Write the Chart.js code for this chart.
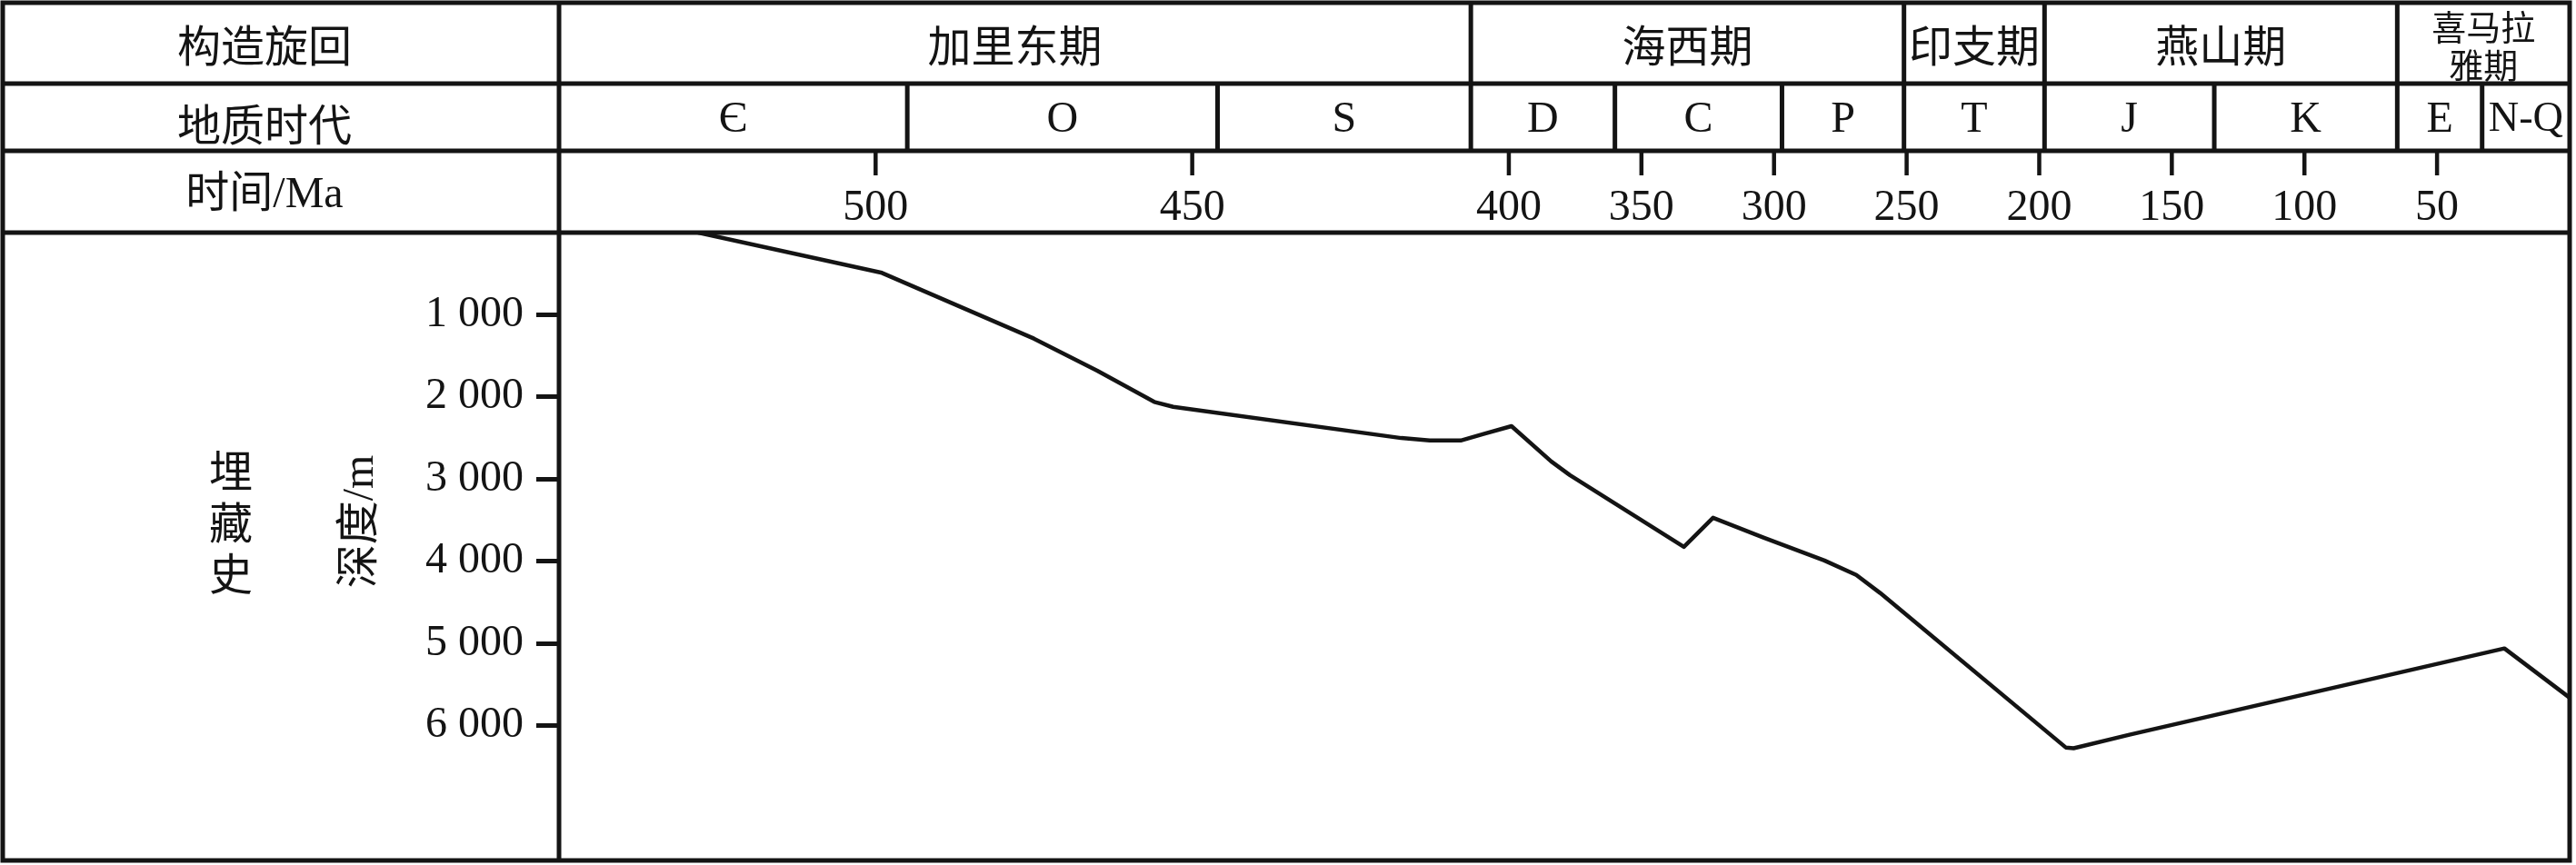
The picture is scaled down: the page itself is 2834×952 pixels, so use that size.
<!DOCTYPE html>
<html>
<head>
<meta charset="utf-8">
<script src="https://cdn.jsdelivr.net/npm/chart.js@4.4.1/dist/chart.umd.min.js"></script>
<style>
html,body{margin:0;padding:0;background:#fff;overflow:hidden;}
#c{display:block;}
</style>
</head>
<body>
<canvas id="c" width="2834" height="952" style="width:2834px;height:952px;"></canvas>
<script>
// ---------------- data ----------------
const rowTitles = ['构造旋回', '地质时代', '时间/Ma'];
const sideTitle = '埋藏史';
const depthTitle = '深度/m';

const cycleNames  = ['加里东期', '海西期', '印支期', '燕山期', '喜马拉雅期'];
const cycleBounds = [550, 406, 251, 198, 65, 0];

const periodNames  = ['Є', 'O', 'S', 'D', 'C', 'P', 'T', 'J', 'K', 'E', 'N-Q'];
const periodBounds = [550, 495, 446, 406, 360, 297, 251, 198, 134, 65, 33, 0];

const timeTicks  = [500, 450, 400, 350, 300, 250, 200, 150, 100, 50];
const depthTicks = [1000, 2000, 3000, 4000, 5000, 6000];

const burialAge   = [528, 499, 475, 465, 456, 453, 417, 412.5, 407.6, 404, 399, 384, 377, 334, 323, 304, 281, 269, 260, 190, 187, 166, 24.6, 0];
const burialDepth = [0, 490, 1290, 1680, 2060, 2120, 2500, 2530, 2530, 2450, 2355, 2785, 2950, 3825, 3470, 3710, 3990, 4165, 4385, 6265, 6275, 6110, 5060, 5660];

// ---------------- style ----------------
const INK = '#141414';
const SERIF = "'Liberation Serif', 'Noto Sans CJK SC', serif";
const CJK = "'Noto Sans CJK SC', sans-serif";

// time axis: older part (before the break) is stretched
const BREAK_MA = 400;
const BREAK_FRAC = 0.5276;

class BreakScale extends Chart.LinearScale {
  _frac(v) {
    if (v <= BREAK_MA) return BREAK_FRAC * (v - this.min) / (BREAK_MA - this.min);
    return BREAK_FRAC + (1 - BREAK_FRAC) * (v - BREAK_MA) / (this.max - BREAK_MA);
  }
  getPixelForValue(value) {
    if (value === null || isNaN(value)) return NaN;
    return this.getPixelForDecimal(this._frac(value));
  }
  getValueForPixel(pixel) {
    const d = this.getDecimalForPixel(pixel);
    if (d <= BREAK_FRAC) return this.min + d / BREAK_FRAC * (BREAK_MA - this.min);
    return BREAK_MA + (d - BREAK_FRAC) / (1 - BREAK_FRAC) * (this.max - BREAK_MA);
  }
}
BreakScale.id = 'breaklinear';
BreakScale.defaults = Chart.LinearScale.defaults;
Chart.register(BreakScale);

const fmtDepth = v => String(v).replace(/\B(?=(\d{3})+(?!\d))/g, ' ');

const tablePlugin = {
  id: 'tableFrame',
  afterDraw(chart) {
    const ctx = chart.ctx, xs = chart.scales.x, a = chart.chartArea;
    const L = 3, T = 3, R = a.right, B = a.bottom, D = a.left;
    const Y1 = 92, Y2 = 166, Y3 = a.top;
    ctx.save();
    ctx.strokeStyle = INK;
    ctx.fillStyle = INK;
    ctx.lineCap = 'butt';
    ctx.lineWidth = 5;
    const line = (x1, y1, x2, y2) => { ctx.beginPath(); ctx.moveTo(x1, y1); ctx.lineTo(x2, y2); ctx.stroke(); };
    ctx.strokeRect(L, T, R - L, B - T);
    [Y1, Y2, Y3].forEach(y => line(L, y, R, y));
    line(D, T, D, B);
    cycleBounds.slice(1, -1).forEach(v => { const x = xs.getPixelForValue(v); line(x, T, x, Y1); });
    periodBounds.slice(1, -1).forEach(v => { const x = xs.getPixelForValue(v); line(x, Y1, x, Y2); });
    ctx.lineWidth = 4.5;
    timeTicks.forEach(v => { const x = xs.getPixelForValue(v); line(x, Y2, x, 193); });

    ctx.textAlign = 'center';
    ctx.textBaseline = 'middle';
    // left column titles
    ctx.font = '48px ' + CJK;
    ctx.fillText(rowTitles[0], 291, 50);
    ctx.fillText(rowTitles[1], 291, 137);
    ctx.font = '48px ' + SERIF;
    ctx.fillText(rowTitles[2], 291, 215);

    // tectonic cycles
    for (let i = 0; i < cycleNames.length; i++) {
      const x0 = xs.getPixelForValue(cycleBounds[i]);
      const x1 = xs.getPixelForValue(cycleBounds[i + 1]);
      const cx = (x0 + x1) / 2, w = Math.abs(x1 - x0);
      ctx.font = '48px ' + CJK;
      const name = cycleNames[i];
      if (ctx.measureText(name).width <= w - 4) {
        ctx.fillText(name, cx, 50);
      } else {
        ctx.font = '38px ' + CJK;
        let k = 1;
        while (k < name.length && ctx.measureText(name.slice(0, k + 1)).width <= w - 40) k++;
        ctx.fillText(name.slice(0, k), cx, 30);
        ctx.fillText(name.slice(k), cx, 72);
      }
    }
    // geological periods
    for (let i = 0; i < periodNames.length; i++) {
      const x0 = xs.getPixelForValue(periodBounds[i]);
      const x1 = xs.getPixelForValue(periodBounds[i + 1]);
      const cx = (x0 + x1) / 2, w = Math.abs(x1 - x0);
      ctx.font = '48px ' + SERIF;
      const tw = ctx.measureText(periodNames[i]).width;
      const size = Math.min(48, 48 * (w - 14) / tw);
      ctx.font = size.toFixed(1) + 'px ' + SERIF;
      ctx.fillText(periodNames[i], cx, 132);
    }
    // side titles
    ctx.font = '48px ' + CJK;
    [...sideTitle].forEach((ch, i) => ctx.fillText(ch, 254, 518 + i * 56.5));
    ctx.save();
    ctx.translate(397, 574);
    ctx.rotate(-Math.PI / 2);
    ctx.font = '48px ' + SERIF;
    ctx.fillText(depthTitle, 0, 0);
    ctx.restore();
    ctx.restore();
  }
};

new Chart(document.getElementById('c'), {
  type: 'line',
  data: {
    datasets: [{
      data: burialAge.map((t, i) => ({ x: t, y: burialDepth[i] })),
      borderColor: INK,
      borderWidth: 4.5,
      pointRadius: 0,
      tension: 0,
      fill: false,
      borderJoinStyle: 'round',
      borderCapStyle: 'round'
    }]
  },
  options: {
    responsive: false,
    maintainAspectRatio: false,
    devicePixelRatio: 1,
    animation: false,
    layout: { padding: { left: 0, right: 7, top: 0, bottom: 5 } },
    plugins: { legend: { display: false }, tooltip: { enabled: false } },
    scales: {
      x: {
        type: 'breaklinear',
        position: 'top',
        min: 0, max: 550,
        reverse: true,
        grid: { display: false },
        border: { display: false },
        ticks: {
          autoSkip: false, maxRotation: 0, padding: -10, color: INK,
          font: { family: SERIF, size: 48 },
          callback: v => String(v)
        },
        afterBuildTicks: s => { s.ticks = timeTicks.map(v => ({ value: v })); },
        afterFit: s => { s.height = 256; s.paddingLeft = 0; s.paddingRight = 0; }
      },
      y: {
        type: 'linear',
        position: 'left',
        min: 0, max: 7640,
        reverse: true,
        grid: { display: true, drawOnChartArea: false, drawTicks: true, tickLength: 25, lineWidth: 5, color: INK },
        border: { display: false },
        ticks: {
          padding: 14, color: INK,
          font: { family: SERIF, size: 48 },
          callback: v => fmtDepth(v)
        },
        afterBuildTicks: s => { s.ticks = depthTicks.map(v => ({ value: v })); },
        afterFit: s => { s.width = 615; s.paddingTop = 0; s.paddingBottom = 0; }
      }
    }
  },
  plugins: [tablePlugin]
});
</script>
</body>
</html>
